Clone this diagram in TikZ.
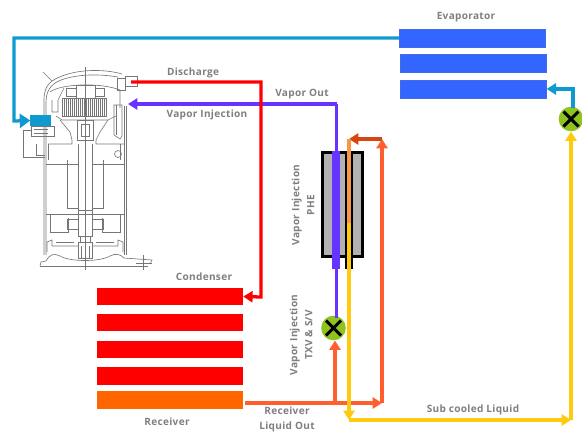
\documentclass[tikz,border=0pt]{standalone}
\usepackage{fontspec}
\setmainfont[LetterSpace=3]{Open Sans}
\usetikzlibrary{arrows.meta}
\definecolor{labelGray}{HTML}{7F7F7F}
\definecolor{sketch}{HTML}{767676}
\definecolor{suctionBlue}{HTML}{0E9AD0}
\definecolor{evapBlue}{HTML}{3366FF}
\definecolor{condRed}{HTML}{FF0000}
\definecolor{recvOrange}{HTML}{FF6600}
\definecolor{liquidOrange}{HTML}{FF5F2E}
\definecolor{hotOrange}{HTML}{DA4410}
\definecolor{paleOrange}{HTML}{F79646}
\definecolor{liquidYellow}{HTML}{FFC90E}
\definecolor{vaporPurple}{HTML}{6633FF}
\definecolor{valveGreen}{HTML}{8FC31F}
\definecolor{pheGray}{HTML}{B2B2B2}
\tikzset{
    evapbar/.style={
        rectangle, fill=evapBlue, draw=evapBlue!80!gray, line width=0.3pt,
        minimum width=4.38cm, minimum height=0.54cm, inner sep=0pt
    },
    condbar/.style={
        rectangle, fill=condRed,
        minimum width=4.38cm, minimum height=0.53cm, inner sep=0pt
    },
    recvbar/.style={
        rectangle, fill=recvOrange,
        minimum width=4.38cm, minimum height=0.54cm, inner sep=0pt
    },
    valvenode/.style={
        circle, fill=valveGreen, minimum size=0.74cm, inner sep=0pt
    },
    valvecross/.style={
        draw=black, line width=2.6pt
    },
    pipe/.style={
        line width=2.8pt, line join=miter,
        -{Triangle[length=8pt,width=9.5pt]}
    },
    plainpipe/.style={
        line width=2.8pt, line join=miter
    },
    sketchline/.style={
        draw=sketch, line width=0.55pt
    },
    looplabel/.style={
        font=\fontsize{8.6}{12.8}\selectfont\bfseries,
        text=labelGray,
        align=center
    }
}
\begin{document}
\begin{tikzpicture}[x=0.03cm,y=-0.03cm]
    \useasboundingbox (0,0) rectangle (582,434);

    % Compressor sketch
    \begin{scope}[sketchline]
        % shell and dome
        \draw (44,255) -- (44,100) .. controls (44,84) and (52,80) .. (62,76)
            .. controls (80,69) and (105,69) .. (122,74);
        \draw (46,255) -- (46,102) .. controls (46,88) and (54,82) .. (64,79)
            .. controls (80,74) and (100,74) .. (118,77);
        \draw (124,106) -- (124,255);
        \draw (126,106) -- (126,255);
        \draw (43,72) -- (52,81);
        \draw (85,67) -- (85,270);
        % discharge fitting
        \draw (117,78) rectangle (125,90);
        \draw (125,76) rectangle (137,86);
        % upper scroll
        \draw (50,92) .. controls (60,84) and (100,82) .. (120,90) -- (120,108);
        \draw (52,100) -- (52,112) -- (58,112) -- (58,100) -- (64,88);
        \draw (66,88) rectangle (76,96);
        \draw (95,88) rectangle (104,96);
        \draw (76,85) rectangle (95,98);
        \draw (62,98) rectangle (106,116);
        \foreach \x in {64,66,...,104} {
            \draw (\x,98) -- (\x,116);
        }
        \draw (56,116) -- (62,120) -- (108,120) -- (116,116);
        \draw (60,120) -- (70,132) -- (72,140) -- (72,144) -- (48,144);
        \draw (108,120) -- (100,132) -- (96,140) -- (96,144) -- (124,144);
        \draw (77,120) rectangle (93,140);
        \draw (81,124) rectangle (89,136);
        % injection tube and valve body
        \draw (114,105) -- (114,135) -- (120,139) -- (122,136) -- (122,105) -- cycle;
        \draw (116,105) -- (116,135);
        % motor terminal and wiring
        \draw (31,126) rectangle (54,136);
        \draw (34,129) -- (48,129);
        \draw (34,133) -- (48,133);
        \draw (23,130) -- (23,157) -- (45,157);
        \draw (23,130) -- (31,130);
        \draw (36,144) -- (36,155) -- (45,155);
        \draw (118,154) circle[radius=3.5];
        % shaft and rotor
        \draw (78,144) -- (78,210);
        \draw (92,144) -- (92,210);
        \draw (67,160) -- (67,208) -- (78,208);
        \draw (103,160) -- (103,208) -- (92,208);
        \draw (48,144) -- (48,160);
        \draw (120,144) -- (120,160);
        \draw (46,164) -- (78,164);
        \draw (92,164) -- (124,164);
        \draw (46,214) -- (124,214);
        % lower bearing and oil pump
        \draw (50,214) -- (50,232) -- (68,232) -- (68,218);
        \draw (120,214) -- (120,232) -- (102,232) -- (102,218);
        \draw (67,219) rectangle (78,229);
        \draw (92,219) rectangle (103,229);
        \draw (78,210) rectangle (92,236);
        \draw (80,236) rectangle (90,242);
        \draw (78,242) rectangle (92,258);
        \draw (81,246) -- (81,258);
        \draw (89,246) -- (89,258);
        \draw (47,252) -- (47,242) -- (52,240) -- (52,246) -- (78,246);
        \draw (92,246) -- (118,246) -- (118,240) -- (123,242) -- (123,252);
        \draw (56,242) -- (74,242);
        \draw (96,242) -- (114,242);
        % bottom cap and mounting feet
        \draw (40,266) -- (41,262) -- (46,261) .. controls (50,254) and (54,253) .. (60,256)
            .. controls (70,262) and (100,262) .. (110,256)
            .. controls (116,253) and (120,254) .. (124,258) -- (152,260) -- (150,264);
        \draw (40,266) -- (148,266);
        \draw (143,255) -- (143,270);
        \draw (136,263) -- (152,263);
    \end{scope}

    % Evaporator, condenser and receiver
    \node[evapbar] (evap-1) at (472,38) {};
    \node[evapbar] (evap-2) at (473,63) {};
    \node[evapbar] (evap-3) at (473.5,89) {};
    \node[condbar] (cond-1) at (170,296.5) {};
    \node[condbar] (cond-2) at (170,322.5) {};
    \node[condbar] (cond-3) at (170,349.5) {};
    \node[condbar] (cond-4) at (170,376) {};
    \node[recvbar] (receiver) at (170,400) {};

    % Compressor ports
    \node[fill=suctionBlue, minimum width=0.6cm, minimum height=0.33cm, inner sep=0pt] (suction) at (40.5,120.5) {};
    \coordinate (discharge) at (131,82);
    \coordinate (injection) at (128,104);

    % Plate heat exchanger
    \node[rectangle, draw=black, fill=pheGray, line width=2.8pt, minimum width=1.2cm, minimum height=3.12cm, inner sep=0pt] (phe) at (342.5,204.5) {};
    \fill[vaporPurple] (332,151) rectangle (340,269);
    \fill[black] (345,151) rectangle (353,269);

    % Expansion valves
    \node[valvenode] (txv) at (333.5,328) {};
    \node[valvenode] (evapvalve) at (571,119) {};
    \foreach \v in {txv,evapvalve} {
        \draw[valvecross] ([shift={(-7.5,-7.5)}]\v.center) -- ([shift={(7.5,7.5)}]\v.center);
        \draw[valvecross] ([shift={(-7.5,7.5)}]\v.center) -- ([shift={(7.5,-7.5)}]\v.center);
    }

    % Junctions on the liquid lines
    \coordinate (tee) at (335,403);
    \coordinate (subcool) at (382,403);
    \coordinate (phein) at (382,139);
    \coordinate (pheout) at (349,139);
    \coordinate (phemid) at (349,223);
    \coordinate (subcorner) at (349,420);
    \coordinate (subend) at (571,420);
    \coordinate (vaporcorner) at (336.5,104);

    % Refrigerant loop
    \draw[plainpipe, draw=vaporPurple] (336.5,318) -- (vaporcorner);
    \draw[pipe, draw=vaporPurple] (vaporcorner) -- (injection);
    \draw[pipe, draw=suctionBlue, -{Triangle[length=9pt,width=12pt]}] (evap-1.west) -- (14,38) -- (14,121) -- (suction.west);
    \draw[pipe, draw=condRed] (discharge) -- (261,82) -- (261,297) -- (cond-1.east);
    \draw[pipe, draw=liquidOrange] (245,403) -- (subcool);
    \draw[pipe, draw=liquidOrange] (tee) -- (txv.south -| tee);
    \draw[pipe, draw=liquidOrange] (subcool) -- (phein);
    \draw[pipe, draw=hotOrange] (phein) -- (pheout);
    \draw[plainpipe, draw=paleOrange] (pheout) -- (phemid);
    \draw[pipe, draw=liquidYellow] (phemid) -- (subcorner);
    \draw[pipe, draw=liquidYellow] (subcorner) -- (subend);
    \draw[pipe, draw=liquidYellow] (subend) -- (evapvalve.south);
    \draw[pipe, draw=suctionBlue] (573,108) |- (evap-3.east);

    % Labels
    \node[looplabel] at (466,17) {Evaporator};
    \node[looplabel] at (193,73) {Discharge};
    \node[looplabel] at (207,115) {Vapor Injection};
    \node[looplabel] at (302,94) {Vapor Out};
    \node[looplabel] at (204,277) {Condenser};
    \node[looplabel] at (167,422) {Receiver};
    \node[looplabel] at (287,419) {Receiver\\Liquid Out};
    \node[looplabel] at (473,410) {Sub cooled Liquid};
    \node[looplabel, rotate=90] at (303,205) {Vapor Injection\\PHE};
    \node[looplabel, rotate=90] at (301,335) {Vapor Injection\\TXV \& S/V};
\end{tikzpicture}
\end{document}
